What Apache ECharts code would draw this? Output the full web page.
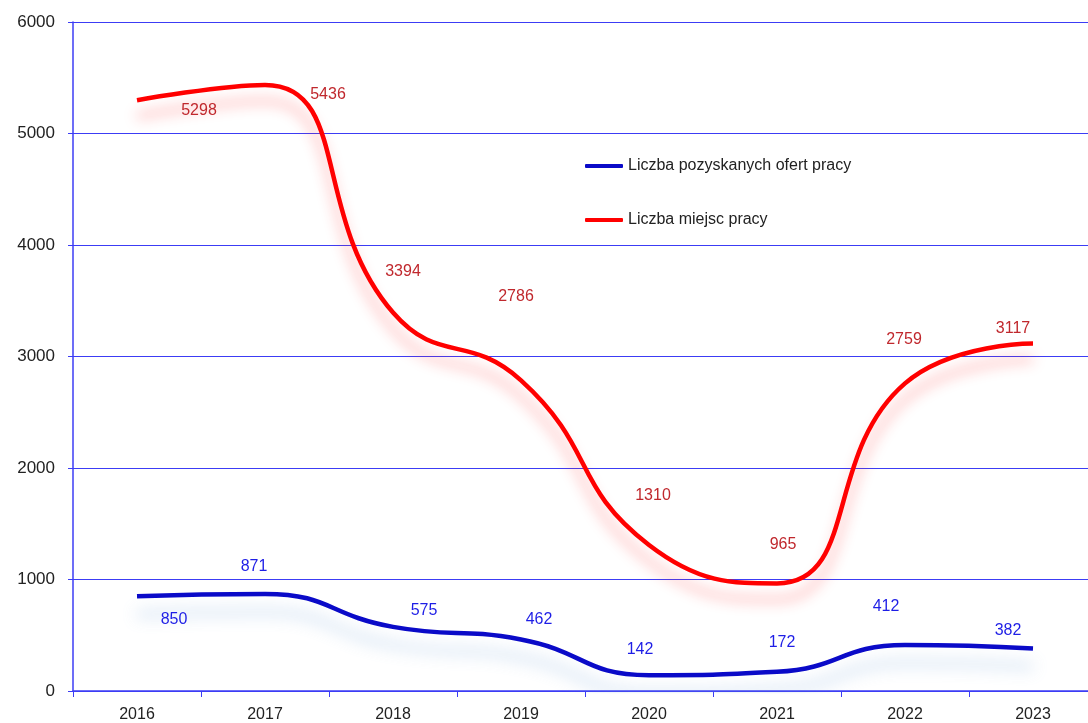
<!DOCTYPE html>
<html>
<head>
<meta charset="utf-8">
<script src="https://cdn.jsdelivr.net/npm/echarts@6/dist/echarts.min.js"></script>
<style>
html, body { margin: 0; padding: 0; background: #fff; }
#chart { width: 1088px; height: 723px; }
</style>
</head>
<body>
<div id="chart"></div>
<script>
const years = ['2016', '2017', '2018', '2019', '2020', '2021', '2022', '2023']
const ofertyName = 'Liczba pozyskanych ofert pracy'
const miejscaName = 'Liczba miejsc pracy'
const oferty = [850, 871, 575, 462, 142, 172, 412, 382]
const miejsca = [5298, 5436, 3394, 2786, 1310, 965, 2759, 3117]
const yTicks = { min: 0, max: 6000, interval: 1000 }

// label shifts (px) from each point, as placed in the original
const ofertyShift = [[37, 23], [-11, -27], [31, -16], [18, -20], [-9, -26], [5, -29], [-19, -38], [-25, -18]]
const miejscaShift = [[62, 10], [63, 10], [10, -41], [-5, -84], [4, -49], [6, -39], [-1, -44], [-20, -15]]

const font = "'Liberation Sans', 'Noto Sans', sans-serif"
const axisBlue = '#3c3cf5'

const withShift = (vals, shifts) => vals.map((v, i) => ({ value: v, label: { offset: shifts[i] } }))

const chart = echarts.init(document.getElementById('chart'))
const option = {
    animation: false,
    textStyle: { fontFamily: font },
    grid: { left: 73, top: 22, width: 1024, height: 669, containLabel: false, outerBoundsMode: 'none' },
    legend: {
        orient: 'vertical',
        left: 580,
        top: 153,
        icon: 'roundRect',
        itemWidth: 38,
        itemHeight: 4,
        itemGap: 38,
        textStyle: { fontSize: 16, color: '#222', fontFamily: font },
        data: [ofertyName, miejscaName]
    },
    xAxis: {
        type: 'category',
        data: years,
        boundaryGap: true,
        axisLine: { lineStyle: { color: axisBlue, width: 1.5 } },
        axisTick: { show: true, length: 6, lineStyle: { color: axisBlue } },
        axisLabel: { color: '#222', fontSize: 16, margin: 16 }
    },
    yAxis: {
        type: 'value',
        min: yTicks.min,
        max: yTicks.max,
        interval: yTicks.interval,
        axisLine: { show: true, lineStyle: { color: axisBlue, width: 1.5 } },
        axisTick: { show: true, length: 5, lineStyle: { color: axisBlue } },
        axisLabel: { color: '#222', fontSize: 17, margin: 18, formatter: (v) => String(v) },
        splitLine: { show: true, lineStyle: { color: axisBlue, width: 1 } }
    },
    series: [
        {
            name: ofertyName,
            type: 'line',
            smooth: 0.5,
            symbol: 'circle',
            symbolSize: 0.1,
            showSymbol: true,
            itemStyle: { color: '#0a0ac8' },
            lineStyle: {
                color: '#0a0ac8',
                width: 4.5,
                shadowColor: 'rgba(110,160,215,0.45)',
                shadowBlur: 16,
                shadowOffsetY: 18
            },
            label: {
                show: true,
                position: 'inside',
                color: '#1e1ee6',
                fontSize: 16
            },
            data: withShift(oferty, ofertyShift),
            z: 3
        },
        {
            name: miejscaName,
            type: 'line',
            smooth: 0.5,
            symbol: 'circle',
            symbolSize: 0.1,
            showSymbol: true,
            itemStyle: { color: '#ff0000' },
            lineStyle: {
                color: '#ff0000',
                width: 4.5,
                shadowColor: 'rgba(255,40,40,0.4)',
                shadowBlur: 14,
                shadowOffsetY: 16
            },
            label: {
                show: true,
                position: 'inside',
                color: '#c0282d',
                fontSize: 16
            },
            data: withShift(miejsca, miejscaShift),
            z: 2
        }
    ]
}
chart.setOption(option)
</script>
</body>
</html>
